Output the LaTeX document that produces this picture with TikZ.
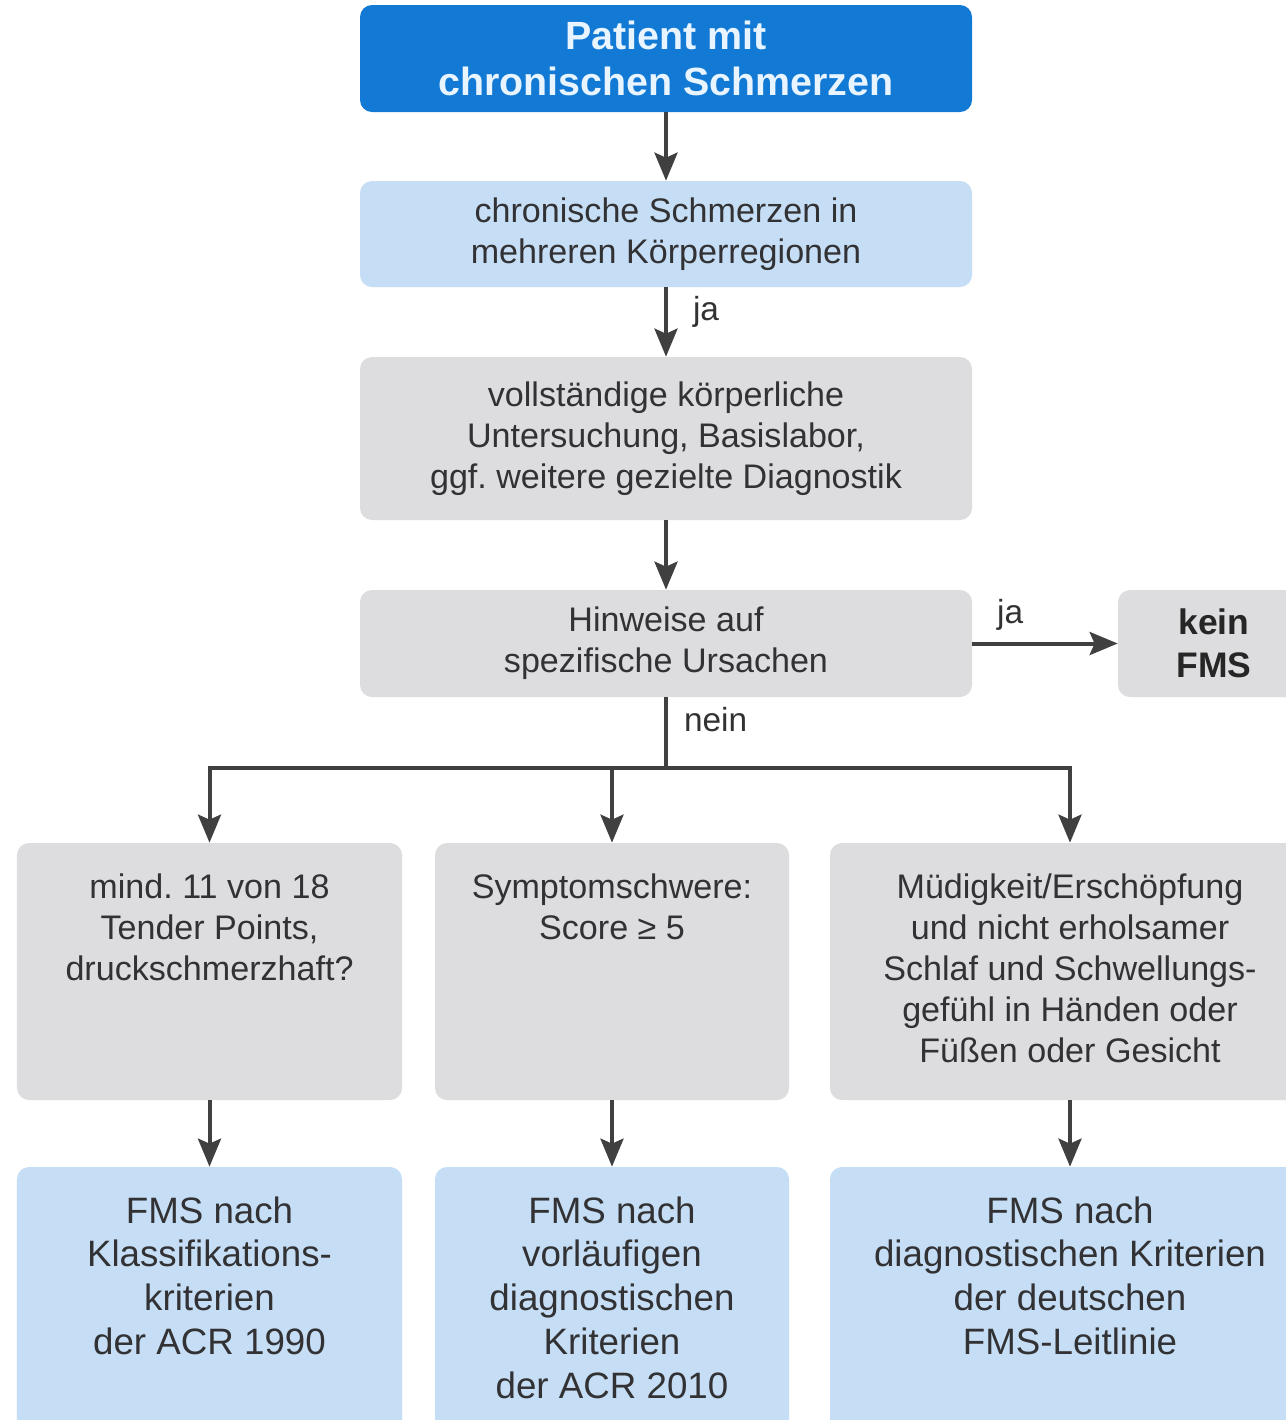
\documentclass[tikz,border=0pt]{standalone}
\usepackage{fontspec}
\setmainfont{Liberation Sans}
\usepackage{xcolor}
\usetikzlibrary{arrows.meta,positioning,calc}
\frenchspacing

\definecolor{fmsblue}{RGB}{18,122,212}
\definecolor{fmswhite}{RGB}{232,244,255}
\definecolor{fmslight}{RGB}{198,222,245}
\definecolor{fmsgray}{RGB}{221,221,223}
\definecolor{fmstext}{RGB}{50,50,52}
\definecolor{fmsarrow}{RGB}{64,64,64}

\begin{document}
\begin{tikzpicture}[
  x=1mm, y=-1mm,
  box/.style={rounded corners=2.4mm,inner sep=0pt,align=center,text=fmstext,
    font=\fontsize{19.4}{23.3}\selectfont},
  head/.style={box,fill=fmsblue,text=fmswhite,font=\bfseries\fontsize{22.4}{26.2}\selectfont},
  pale/.style={box,fill=fmslight},
  grey/.style={box,fill=fmsgray},
  txt/.style={inner sep=0pt,align=center,text=fmstext,font=\fontsize{19.4}{23.3}\selectfont},
  restxt/.style={txt,font=\fontsize{20.9}{24.9}\selectfont},
  flow/.style={-{Stealth[length=5.6mm,width=4.6mm,inset=1mm]},line width=0.8mm,draw=fmsarrow},
  lbl/.style={inner sep=0pt,text=fmstext,font=\fontsize{19}{23}\selectfont}
]
\useasboundingbox (0,0) rectangle (257.2,284);
\fill[white] (0,0) rectangle (257.2,284);
\clip (0,0) rectangle (257.2,284);

% main column
\node[head,minimum width=122.4mm,minimum height=21.4mm] (patient) at (133.2,11.7) {Patient mit\\chronischen Schmerzen};
\node[pale,minimum width=122.4mm,minimum height=21.2mm] (regionen) at (133.2,46.8) {chronische Schmerzen in\\mehreren Körperregionen};
\node[grey,minimum width=122.4mm,minimum height=32.6mm] (untersuchung) at (133.2,87.7) {vollständige körperliche\\Untersuchung, Basislabor,\\ggf. weitere gezielte Diagnostik};
\node[grey,minimum width=122.4mm,minimum height=21.4mm] (hinweise) at (133.2,128.7) {Hinweise auf\\spezifische Ursachen};
\node[grey,minimum width=38.4mm,minimum height=21.4mm,text=black!85,font=\bfseries\fontsize{20.2}{24.5}\selectfont] (keinfms) at (242.8,128.7) {kein\\FMS};
\coordinate (split) at (133.2,153.6);

% criteria
\node[grey,minimum width=77mm,minimum height=51.4mm] (tender) at (41.9,194.3) {};
\node[grey,minimum width=70.8mm,minimum height=51.4mm] (score) at (122.4,194.3) {};
\node[grey,minimum width=96mm,minimum height=51.4mm] (muedigkeit) at (214,194.3) {};
\node[txt,below=6.2mm of tender.north] (tendertext) {mind. 11 von 18\\Tender Points,\\druckschmerzhaft?};
\node[txt,below=6.2mm of score.north] (scoretext) {Symptomschwere:\\Score ≥ 5};
\node[txt,below=6.2mm of muedigkeit.north] (muedigkeittext) {Müdigkeit/Erschöpfung\\und nicht erholsamer\\Schlaf und Schwellungs-\\gefühl in Händen oder\\Füßen oder Gesicht};

% results
\node[pale,minimum width=77mm,minimum height=54.6mm] (acr1990) at (41.9,260.7) {};
\node[pale,minimum width=70.8mm,minimum height=54.6mm] (acr2010) at (122.4,260.7) {};
\node[pale,minimum width=96mm,minimum height=54.6mm] (leitlinie) at (214,260.7) {};
\node[restxt,below=5.9mm of acr1990.north] (acr1990text) {FMS nach\\Klassifikations-\\kriterien\\der ACR 1990};
\node[restxt,below=5.9mm of acr2010.north] (acr2010text) {FMS nach\\vorläufigen\\diagnostischen\\Kriterien\\der ACR 2010};
\node[restxt,below=5.9mm of leitlinie.north] (leitlinietext) {FMS nach\\diagnostischen Kriterien\\der deutschen\\FMS-Leitlinie};

% connectors
\draw[flow] (patient) -- (regionen);
\draw[flow] (regionen) -- node[lbl,pos=0.35,right=5mm] {ja} (untersuchung);
\draw[flow] (untersuchung) -- (hinweise);
\draw[flow] (hinweise) -- node[lbl,pos=0.26,above=2.2mm] {ja} (keinfms);
\draw[line width=0.8mm,draw=fmsarrow] (hinweise) -- node[lbl,pos=0.32,right=3.2mm] {nein} (split);
\draw[flow] (split) -| (tender);
\draw[flow] (split) -| (muedigkeit);
\draw[flow] (split -| score) -- (score);
\draw[flow] (tender) -- (acr1990);
\draw[flow] (score) -- (acr2010);
\draw[flow] (muedigkeit) -- (leitlinie);
\end{tikzpicture}
\end{document}
